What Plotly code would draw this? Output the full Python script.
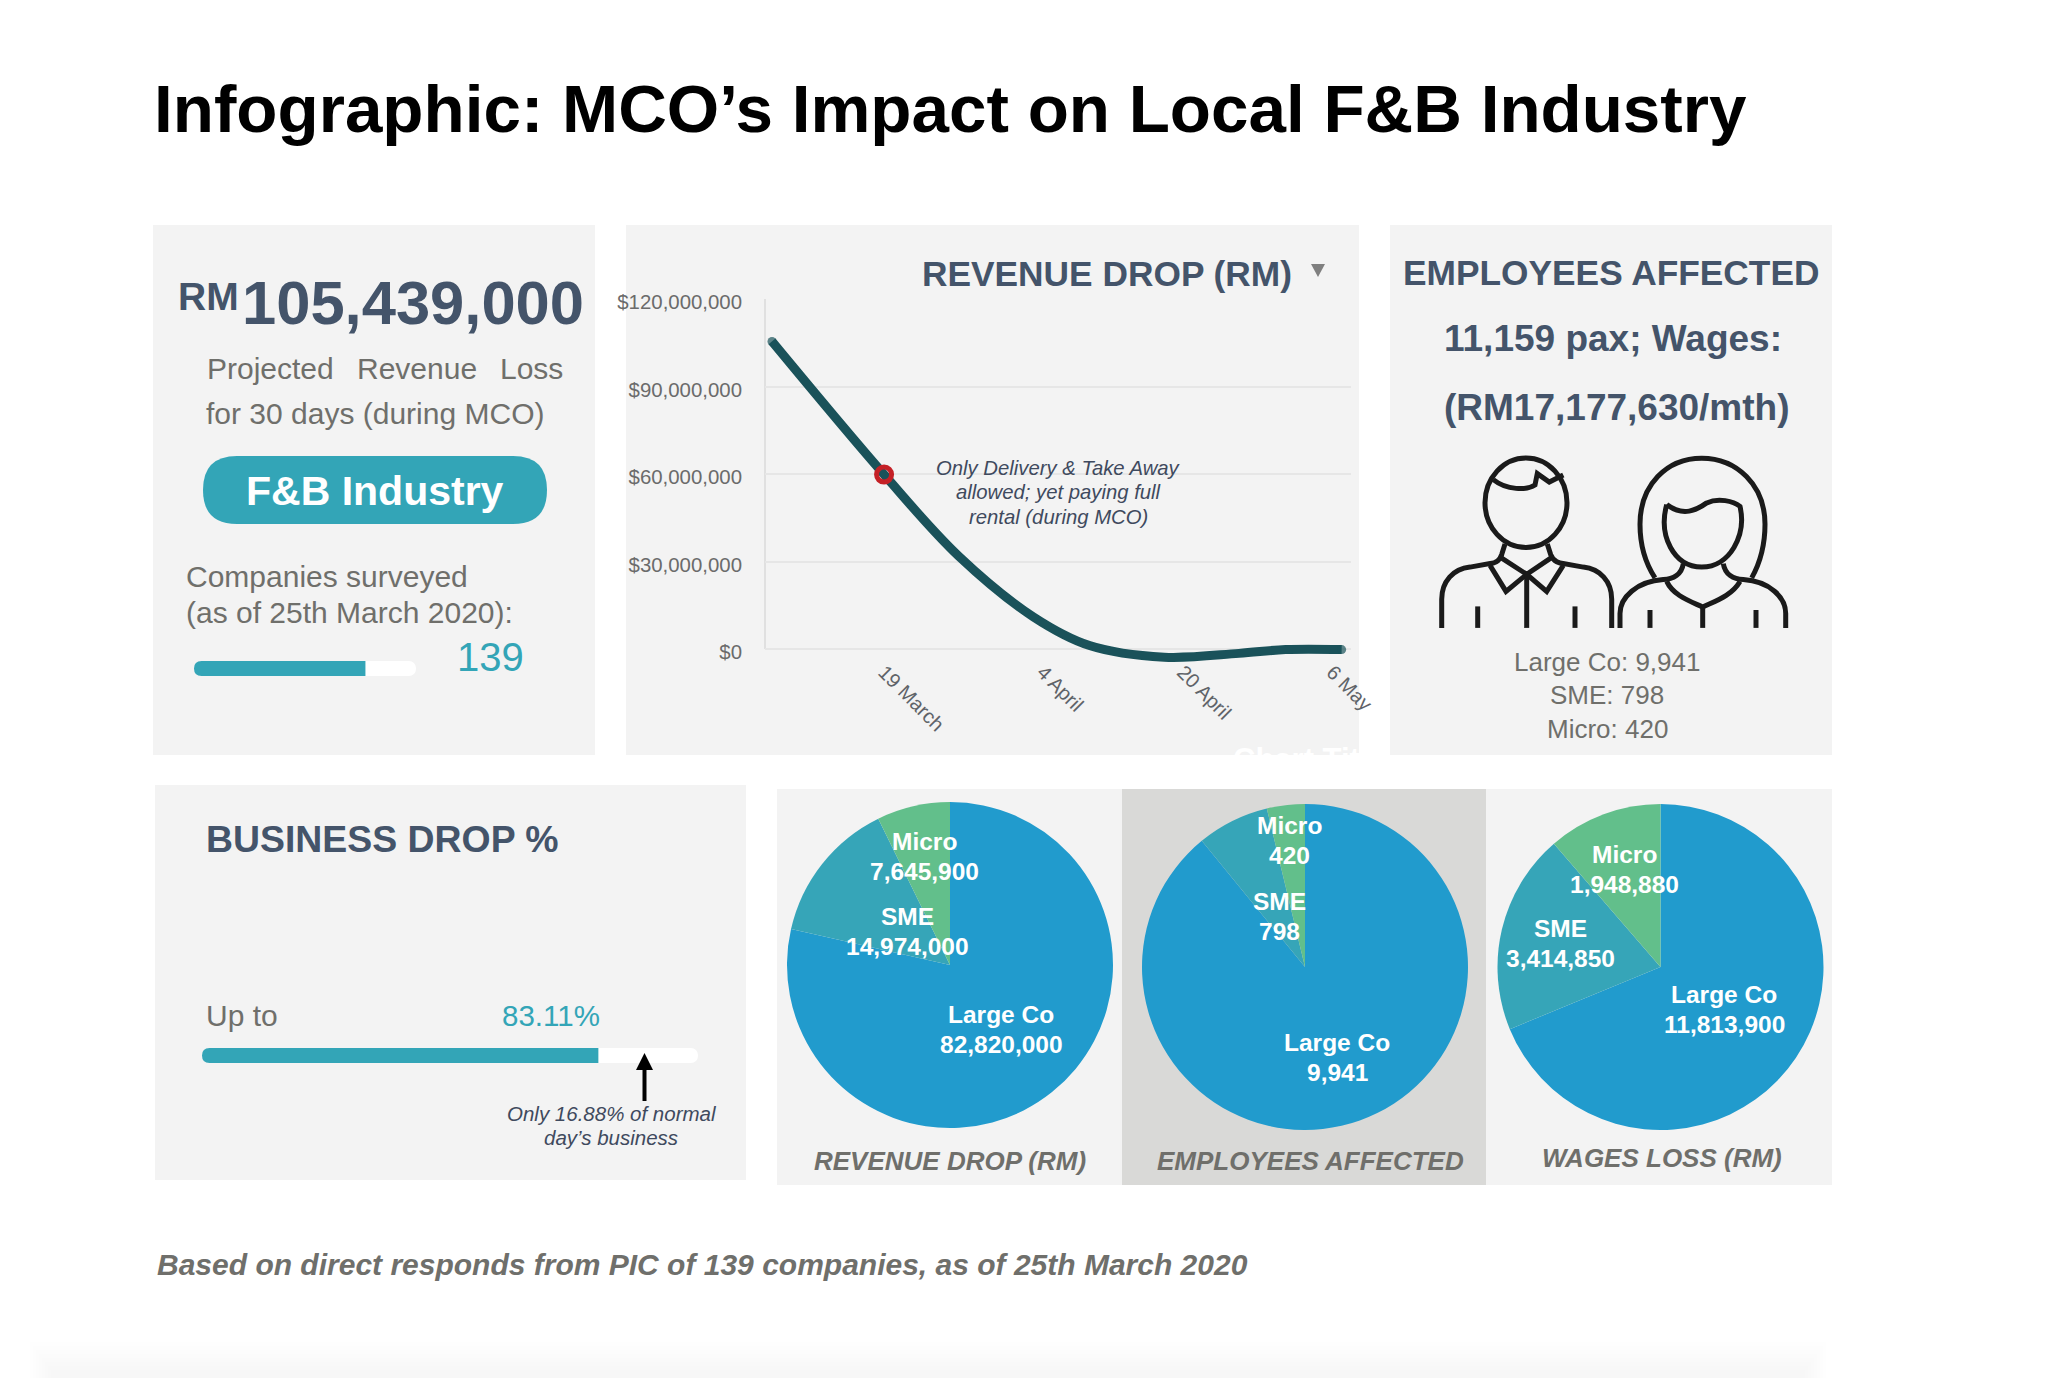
#!/usr/bin/env python3
import re

import plotly.graph_objects as go

WIDTH = 2048
HEIGHT = 1378

NAVY = "#44546A"
GREY = "#6F6F6B"
TEAL = "#33A5B7"
PANEL = "#F3F3F3"

TITLE = "Infographic: MCO’s Impact on Local F&B Industry"

# line chart
LINE_DATES = [
    "2020-03-07", "2020-03-19", "2020-03-27", "2020-04-04", "2020-04-10",
    "2020-04-18", "2020-04-26", "2020-05-01", "2020-05-07",
]
LINE_VALUES = [
    105439000, 59800000, 31800000, 11000000, 1200000,
    -2800000, -1500000, -200000, -200000,
]
X_TICK_DATES = ["2020-03-19", "2020-04-05", "2020-04-20", "2020-05-06"]
X_TICK_LABELS = ["19 March", "4 April", "20 April", "6 May"]
Y_TICKS = [0, 30000000, 60000000, 90000000, 120000000]
Y_MIN = -5000000
Y_MAX = 120000000
HIGHLIGHT_DATE = ["2020-03-19"]
HIGHLIGHT_VALUE = [59800000]

# progress bars
SURVEYED = [139]
SURVEYED_TRACK = [180]
BUSINESS_DROP = [83.11]
BUSINESS_TRACK = [104]

# pies
PIE_LABELS = ["Large Co", "SME", "Micro"]
PIE_COLORS = ["#219BCD", "#36A5B8", "#62BF8B"]
REVENUE_DROP = [82820000, 14974000, 7645900]
EMPLOYEES = [9941, 798, 420]
WAGES_LOSS = [11813900, 3414850, 1948880]
EMPLOYEE_LINES = ["Large Co: 9,941", "SME: 798", "Micro: 420"]


def xdom(x0, x1):
    return [x0 / WIDTH, x1 / WIDTH]


def ydom(y0, y1):
    return [1 - y1 / HEIGHT, 1 - y0 / HEIGHT]


annotations = []
shapes = []


def text(x, baseline, s, size, color=GREY, bold=False, italic=False, anchor="center"):
    if anchor == "left":
        x -= 2
    annotations.append(dict(
        x=x, y=baseline - 0.3465 * size, xref="x", yref="y", text=s, showarrow=False,
        xanchor=anchor, yanchor="middle", borderpad=0,
        font=dict(
            family="Liberation Sans", size=size, color=color,
            weight=700 if bold else 400, style="italic" if italic else "normal",
        ),
    ))


def rect(x0, y0, x1, y1, color):
    shapes.append(dict(
        type="rect", xref="x", yref="y", x0=x0, y0=y0, x1=x1, y1=y1,
        fillcolor=color, line_width=0, layer="below",
    ))


def round_rect(x0, y0, x1, y1, r, color, layer="below"):
    path = (
        f"M {x0 + r},{y0} L {x1 - r},{y0} Q {x1},{y0} {x1},{y0 + r} "
        f"L {x1},{y1 - r} Q {x1},{y1} {x1 - r},{y1} L {x0 + r},{y1} "
        f"Q {x0},{y1} {x0},{y1 - r} L {x0},{y0 + r} Q {x0},{y0} {x0 + r},{y0} Z"
    )
    shapes.append(dict(type="path", xref="x", yref="y", path=path, fillcolor=color,
                       line_width=0, layer=layer))


def left_cap_mask(x, y0, y1, color):
    # bar corners only round at the far end, so hide the square ones at the base
    r = (y1 - y0) / 2
    path = (f"M {x - 1},{y0} L {x + r},{y0} Q {x},{y0} {x},{y0 + r} "
            f"Q {x},{y1} {x + r},{y1} L {x - 1},{y1} Z")
    shapes.append(dict(type="path", xref="x", yref="y", path=path, fillcolor=color,
                       line_width=0, layer="above"))


def icon(path):
    # icon was traced from a 3 x 2.8 enlarged crop
    def conv(m):
        return f"{1390 + float(m.group(1)) / 3:.1f},{210 + float(m.group(2)) / 2.8:.1f}"

    shapes.append(dict(
        type="path", xref="x", yref="y", path=re.sub(r"([\d.]+),([\d.]+)", conv, path),
        line=dict(color="#1A1A1A", width=5), fillcolor="rgba(0,0,0,0)", layer="above",
    ))


# panels
rect(153, 225, 595, 755, PANEL)
rect(626, 225, 1359, 755, PANEL)
rect(1390, 225, 1832, 755, PANEL)
rect(155, 785, 746, 1180, PANEL)
rect(777, 789, 1832, 1185, PANEL)
rect(1122, 789, 1486, 1185, "#D9D9D7")

# faint shadow along the bottom edge of the page
for i in range(8):
    rect(30 + i * 3, 1342 + i * 4, 1826 - i * 3, HEIGHT, "rgba(0,0,0,0.004)")

text(155, 131.5, TITLE, 67.4, color="#000000", bold=True, anchor="left")

# left panel
text(179, 310, "RM", 39, NAVY, bold=True, anchor="left")
text(242.5, 324, "105,439,000", 61.5, NAVY, bold=True, anchor="left")
text(208, 379, "Projected", 30, anchor="left")
text(358, 379, "Revenue", 30, anchor="left")
text(501, 379, "Loss", 30, anchor="left")
text(207, 424, "for 30 days (during MCO)", 30, anchor="left")
round_rect(203, 456, 547, 524, 34, TEAL)
text(375, 505, "F&B Industry", 41, "#FFFFFF", bold=True)
text(187, 587, "Companies surveyed", 30, anchor="left")
text(187, 622.5, "(as of 25th March 2020):", 30, anchor="left")
text(490, 671, f"{SURVEYED[0]}", 40, TEAL)
left_cap_mask(194, 661, 676, PANEL)

# line chart panel
text(923, 286, "REVENUE DROP (RM)", 35.3, NAVY, bold=True, anchor="left")
shapes.append(dict(type="path", xref="x", yref="y", path="M 1311,264 L 1325,264 L 1318,277 Z",
                   fillcolor="#7F7F7F", line_width=0, layer="above"))
shapes.append(dict(type="line", xref="x", yref="y", x0=765, y0=299, x1=765, y1=649,
                   line=dict(color="#E0E0E0", width=2), layer="below"))
for line, base in zip(
    ["Only Delivery & Take Away", "allowed; yet paying full", "rental (during MCO)"],
    [475, 499, 524],
):
    text(1058, base, line, 20.3, "#3F4A5E", italic=True)
text(1234, 770.5, "Chart Title", 31, "#FFFFFF", bold=True, anchor="left")

# employees panel
text(1611, 285, "EMPLOYEES AFFECTED", 35.3, NAVY, bold=True)
text(1613, 351, "11,159 pax; Wages:", 37, NAVY, bold=True)
text(1616, 420, "(RM17,177,630/mth)", 37, NAVY, bold=True)
for line, base in zip(EMPLOYEE_LINES, [671, 703.6, 738.5]):
    text(1607, base, line, 26)

# man
shapes.append(dict(type="circle", xref="x", yref="y", x0=1485, y0=458, x1=1567, y1=547.5,
                   line=dict(color="#1A1A1A", width=5), layer="above"))
icon("M 310,755 C 350,785 410,785 435,770 L 442,738 L 478,762 L 520,742")
icon("M 345,935 L 335,965 C 328,985 310,990 300,990 L 240,1000 C 190,1005 155,1040 155,1090 L 155,1170")
icon("M 472,935 L 482,965 C 490,985 510,990 520,990 L 580,1000 C 630,1005 665,1040 665,1090 L 665,1170")
icon("M 335,975 L 410,1020 L 482,975")
icon("M 300,995 L 348,1068 L 410,1020 L 470,1068 L 520,995")
icon("M 410,1020 L 410,1170")
icon("M 263,1110 L 263,1170")
icon("M 555,1110 L 555,1170")

# woman
icon("M 795,1030 C 760,980 750,930 750,880 C 750,770 830,695 935,695 "
     "C 1040,695 1125,770 1125,880 C 1125,930 1115,980 1085,1030")
icon("M 830,825 C 880,860 920,840 950,820 C 985,805 1030,815 1050,830 "
     "C 1070,910 1020,1000 935,1000 C 850,1000 805,910 830,825")
icon("M 880,990 C 875,1020 850,1035 820,1035 C 740,1040 690,1085 690,1130 L 690,1170")
icon("M 1000,990 C 1005,1020 1030,1035 1060,1035 C 1140,1040 1187,1085 1187,1130 L 1187,1170")
icon("M 830,1040 C 850,1080 900,1095 938,1112 C 975,1095 1025,1080 1050,1040")
icon("M 938,1112 L 938,1170")
icon("M 780,1120 L 780,1170")
icon("M 1098,1120 L 1098,1170")

# business drop panel
text(207, 852, "BUSINESS DROP %", 37.4, NAVY, bold=True, anchor="left")
text(207, 1026, "Up to", 30, anchor="left")
text(551, 1026, f"{BUSINESS_DROP[0]}%", 29.5, TEAL)
left_cap_mask(202, 1048, 1063, PANEL)
shapes.append(dict(type="path", xref="x", yref="y", path="M 644.5,1053 L 653,1070 L 636,1070 Z",
                   fillcolor="#000000", line_width=0, layer="above"))
shapes.append(dict(type="line", xref="x", yref="y", x0=644.5, y0=1068, x1=644.5, y1=1101,
                   line=dict(color="#000000", width=4), layer="above"))
text(612, 1120.7, "Only 16.88% of normal", 20.5, "#3F4A5E", italic=True)
text(611, 1145, "day’s business", 20.5, "#3F4A5E", italic=True)

# pie captions and labels
text(950, 1170, "REVENUE DROP (RM)", 26, GREY, bold=True, italic=True)
text(1310, 1170, "EMPLOYEES AFFECTED", 26, GREY, bold=True, italic=True)
text(1662, 1167, "WAGES LOSS (RM)", 26, GREY, bold=True, italic=True)


def pie_labels(values, spots):
    for label, value, (x, base) in zip(PIE_LABELS, values, spots):
        text(x, base, label, 24.5, "#FFFFFF", bold=True)
        text(x, base + 29.5, f"{value:,}", 24.5, "#FFFFFF", bold=True)


pie_labels(REVENUE_DROP, [(1001, 1023), (907, 925), (924, 850)])
pie_labels(EMPLOYEES, [(1337, 1051), (1279, 910), (1289, 834)])
pie_labels(WAGES_LOSS, [(1724, 1003), (1560, 937), (1624, 863)])

text(158, 1275, "Based on direct responds from PIC of 139 companies, as of 25th March 2020",
     30, GREY, bold=True, italic=True, anchor="left")

fig = go.Figure()

# line chart
fig.add_trace(go.Scatter(
    x=LINE_DATES, y=LINE_VALUES, mode="lines+markers", xaxis="x2", yaxis="y2",
    line=dict(color="#1A525A", width=9, shape="spline", smoothing=1),
    marker=dict(color="#1A525A", size=[9, 0, 0, 0, 0, 0, 0, 0, 9], line_width=0),
    cliponaxis=False, showlegend=False,
))
fig.add_trace(go.Scatter(
    x=HIGHLIGHT_DATE, y=HIGHLIGHT_VALUE, mode="markers", xaxis="x2", yaxis="y2",
    marker=dict(color="rgba(0,0,0,0)", size=15, line=dict(color="#C42026", width=5)),
    cliponaxis=False, showlegend=False,
))

# progress bars: white track first, teal on top
for track, value, xa, ya in [
    (SURVEYED_TRACK, SURVEYED, "x3", "y3"),
    (BUSINESS_TRACK, BUSINESS_DROP, "x4", "y4"),
]:
    for v, color in [(track, "#FFFFFF"), (value, TEAL)]:
        fig.add_trace(go.Bar(
            x=v, y=[0], orientation="h", xaxis=xa, yaxis=ya, width=1,
            marker=dict(color=color, cornerradius="50%", line_width=0), showlegend=False,
        ))

# pies
for values, cx, cy in [
    (REVENUE_DROP, 950, 965),
    (EMPLOYEES, 1305, 967),
    (WAGES_LOSS, 1660.5, 967),
]:
    r = 163
    fig.add_trace(go.Pie(
        labels=PIE_LABELS, values=values, sort=False, direction="clockwise", rotation=0,
        marker=dict(colors=PIE_COLORS, line_width=0), textinfo="none", showlegend=False,
        domain=dict(x=xdom(cx - r, cx + r), y=ydom(cy - r, cy + r)),
    ))

hidden = dict(visible=False, fixedrange=True, automargin=False)

fig.update_layout(
    width=WIDTH,
    height=HEIGHT,
    margin=dict(l=0, r=0, t=0, b=0),
    paper_bgcolor="#FFFFFF",
    plot_bgcolor="rgba(0,0,0,0)",
    barmode="overlay",
    font=dict(family="Liberation Sans"),
    showlegend=False,
    annotations=annotations,
    shapes=shapes,
    # canvas in picture pixels, for the panels and texts
    xaxis=dict(domain=[0, 1], range=[0, WIDTH], **hidden),
    yaxis=dict(domain=[0, 1], range=[HEIGHT, 0], **hidden),
    xaxis2=dict(
        domain=xdom(765, 1351), range=["2020-03-06 06:00", "2020-05-08"], type="date",
        anchor="y2", tickmode="array", tickvals=X_TICK_DATES, ticktext=X_TICK_LABELS,
        tickangle=45, tickfont=dict(size=20, color="#5F6368"), showgrid=False,
        zeroline=False, showline=False, ticks="", ticklabelstandoff=-8, fixedrange=True,
        automargin=False,
    ),
    yaxis2=dict(
        domain=ydom(299, 649 + 350 * -Y_MIN / Y_MAX), range=[Y_MIN, Y_MAX], anchor="x2",
        tickmode="array", tickvals=Y_TICKS, tickformat="$,d",
        tickfont=dict(size=20.4, color="#6B6B6B"), gridcolor="#E6E6E6", gridwidth=2,
        zeroline=False, showline=False, ticks="", ticklabelstandoff=22, ticklabelshift=3,
        fixedrange=True, automargin=False,
    ),
    xaxis3=dict(domain=xdom(194, 416), range=[0, SURVEYED_TRACK[0]], anchor="y3", **hidden),
    yaxis3=dict(domain=ydom(661, 676), range=[-0.5, 0.5], anchor="x3", **hidden),
    xaxis4=dict(domain=xdom(202, 698), range=[0, BUSINESS_TRACK[0]], anchor="y4", **hidden),
    yaxis4=dict(domain=ydom(1048, 1063), range=[-0.5, 0.5], anchor="x4", **hidden),
)

fig.write_html(
    "out.html",
    config={"displayModeBar": False},
    post_script="document.body.style.margin='0';",
)
